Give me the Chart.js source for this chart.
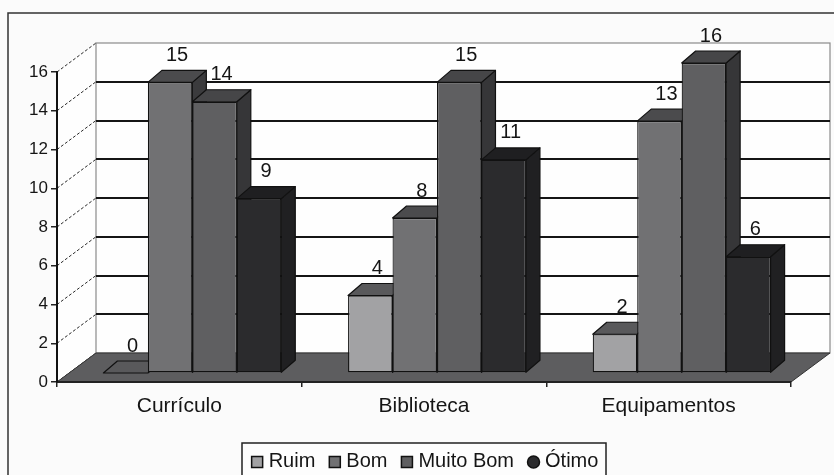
<!DOCTYPE html>
<html>
<head>
<meta charset="utf-8">
<script src="https://cdn.jsdelivr.net/npm/chart.js@4/dist/chart.umd.min.js"></script>
<style>
  html, body { margin: 0; padding: 0; background: #fbfbfb; }
  canvas { display: block; }
</style>
</head>
<body>
<canvas id="c" width="834" height="475"></canvas>
<script>
// ---- data ----
const categories = ['Currículo', 'Biblioteca', 'Equipamentos'];
const seriesNames = ['Ruim', 'Bom', 'Muito Bom', 'Ótimo'];
const ruim = [0, 4, 2];
const bom = [15, 8, 13];
const muitoBom = [14, 15, 16];
const otimo = [9, 11, 6];
const yMin = 0, yMax = 16, yStep = 2;

// ---- styles ----
const FONT = '"Liberation Sans", Arial, sans-serif';
const TEXT = '#151515';
const frontColors = ['#a2a2a4', '#717173', '#5f5f61', '#2b2b2d'];
const topColors = ['#59595b', '#4b4b4d', '#464648', '#1f1f21'];
const sideColors = ['#4a4a4c', '#3b3b3d', '#363638', '#202022'];
const G = { wallDx: 39, wallDy: -29, barDx: 13, barDy: -9, depthDx: 14, depthDy: -12 };

const seriesValues = [ruim, bom, muitoBom, otimo];

const threeD = {
  id: 'threeD',
  beforeDraw(chart) {
    const ctx = chart.ctx;
    const ys = chart.scales.y;
    const L = chart.chartArea.left, R = chart.chartArea.right;
    const B = ys.getPixelForValue(yMin), T = ys.getPixelForValue(yMax);
    ctx.save();
    ctx.fillStyle = '#fbfbfb';
    ctx.fillRect(0, 0, chart.width, chart.height);
    // outer border
    ctx.strokeStyle = '#333';
    ctx.lineWidth = 1.5;
    ctx.strokeRect(8, 13, chart.width + 10, chart.height + 10);
    // left wall
    ctx.fillStyle = '#fefefe';
    ctx.beginPath();
    ctx.moveTo(L, T); ctx.lineTo(L + G.wallDx, T + G.wallDy);
    ctx.lineTo(L + G.wallDx, B + G.wallDy); ctx.lineTo(L, B); ctx.closePath();
    ctx.fill();
    // back wall
    ctx.fillStyle = '#fefefe';
    ctx.fillRect(L + G.wallDx, T + G.wallDy, R - L, B - T);
    ctx.strokeStyle = '#8a8a8a';
    ctx.lineWidth = 1.2;
    ctx.strokeRect(L + G.wallDx, T + G.wallDy, R - L, B - T);
    // back gridlines
    ctx.strokeStyle = '#151515';
    ctx.lineWidth = 2;
    for (let v = yMin + yStep; v < yMax; v += yStep) {
      const y = Math.round(ys.getPixelForValue(v) + G.wallDy);
      ctx.beginPath();
      ctx.moveTo(L + G.wallDx, y); ctx.lineTo(R + G.wallDx, y);
      ctx.stroke();
    }
    // side diagonals
    ctx.strokeStyle = '#2a2a2a';
    ctx.lineWidth = 1;
    ctx.setLineDash([3, 2]);
    for (let v = yMin; v <= yMax; v += yStep) {
      const y = ys.getPixelForValue(v);
      ctx.beginPath();
      ctx.moveTo(L, y); ctx.lineTo(L + G.wallDx, y + G.wallDy);
      ctx.stroke();
    }
    ctx.setLineDash([]);
    // floor
    ctx.fillStyle = '#5d5d5f';
    ctx.beginPath();
    ctx.moveTo(L, B); ctx.lineTo(R, B);
    ctx.lineTo(R + G.wallDx, B + G.wallDy); ctx.lineTo(L + G.wallDx, B + G.wallDy);
    ctx.closePath();
    ctx.fill();
    ctx.strokeStyle = '#333';
    ctx.lineWidth = 1;
    ctx.stroke();
    ctx.restore();
  },
  beforeDatasetsDraw(chart) {
    // top and side faces, drawn left to right within each group, before the
    // library draws the front faces on top of them
    const ctx = chart.ctx;
    ctx.save();
    ctx.translate(G.barDx, G.barDy);
    ctx.lineWidth = 1.2;
    ctx.strokeStyle = '#111';
    ctx.lineJoin = 'round';
    for (let j = 0; j < categories.length; j++) {
      for (let i = 0; i < chart.data.datasets.length; i++) {
        const el = chart.getDatasetMeta(i).data[j];
        if (!el) continue;
        const p = el.getProps(['x', 'y', 'base', 'width'], true);
        const l = p.x - p.width / 2, r = p.x + p.width / 2;
        const t = p.y, b = p.base;
        if (b - t > 0.5) {
          ctx.fillStyle = sideColors[i];
          ctx.beginPath();
          ctx.moveTo(r, t); ctx.lineTo(r + G.depthDx, t + G.depthDy);
          ctx.lineTo(r + G.depthDx, b + G.depthDy); ctx.lineTo(r, b);
          ctx.closePath(); ctx.fill(); ctx.stroke();
        }
        ctx.fillStyle = topColors[i];
        ctx.beginPath();
        ctx.moveTo(l, t); ctx.lineTo(r, t);
        ctx.lineTo(r + G.depthDx, t + G.depthDy); ctx.lineTo(l + G.depthDx, t + G.depthDy);
        ctx.closePath(); ctx.fill(); ctx.stroke();
      }
    }
    ctx.restore();
  },
  beforeDatasetDraw(chart) {
    chart.ctx.save();
    chart.ctx.translate(G.barDx, G.barDy);
  },
  afterDatasetDraw(chart) {
    chart.ctx.restore();
  },
  afterDatasetsDraw(chart) {
    const ctx = chart.ctx;
    ctx.save();
    ctx.translate(G.barDx, G.barDy);
    ctx.font = '20px ' + FONT;
    ctx.fillStyle = TEXT;
    ctx.textAlign = 'center';
    ctx.textBaseline = 'middle';
    chart.data.datasets.forEach((ds, i) => {
      const meta = chart.getDatasetMeta(i);
      meta.data.forEach((el, j) => {
        const p = el.getProps(['x', 'y'], true);
        ctx.fillText(String(ds.data[j]), p.x + G.depthDx / 2, p.y + G.depthDy - 15);
      });
    });
    ctx.restore();
  },
  afterDraw(chart) {
    // legend
    const ctx = chart.ctx;
    ctx.save();
    ctx.font = '20px ' + FONT;
    const marker = 11, gapM = 6, gapI = 14;
    const widths = seriesNames.map((n) => ctx.measureText(n).width);
    let total = 0;
    widths.forEach((w, k) => { total += marker + gapM + w + (k < widths.length - 1 ? gapI : 0); });
    const cx = 425, cy = 461;
    let x = cx - total / 2;
    ctx.strokeStyle = '#222';
    ctx.lineWidth = 1.5;
    ctx.fillStyle = '#fdfdfd';
    ctx.fillRect(242, 443, 364, 40);
    ctx.strokeRect(242, 443, 364, 40);
    ctx.textBaseline = 'middle';
    ctx.textAlign = 'left';
    seriesNames.forEach((n, k) => {
      ctx.fillStyle = frontColors[k];
      ctx.strokeStyle = '#111';
      ctx.lineWidth = 1.5;
      if (k === 3) {
        ctx.beginPath();
        ctx.arc(x + marker / 2, cy + 1, marker / 2 + 0.5, 0, Math.PI * 2);
        ctx.fill(); ctx.stroke();
      } else {
        ctx.fillRect(x, cy - marker / 2 + 1, marker, marker);
        ctx.strokeRect(x, cy - marker / 2 + 1, marker, marker);
      }
      ctx.fillStyle = TEXT;
      ctx.fillText(n, x + marker + gapM, cy);
      x += marker + gapM + widths[k] + gapI;
    });
    ctx.restore();
  }
};

const datasets = seriesValues.map((vals, i) => ({
  label: seriesNames[i],
  data: vals,
  backgroundColor: frontColors[i],
  borderColor: '#111',
  borderWidth: 1.2,
  borderSkipped: false,
  categoryPercentage: 0.727,
  barPercentage: 1.0,
  clip: false
}));

new Chart(document.getElementById('c'), {
  type: 'bar',
  data: { labels: categories, datasets },
  options: {
    responsive: false,
    animation: false,
    devicePixelRatio: 1,
    layout: { padding: { left: 0, right: 43, top: 72, bottom: 53 } },
    plugins: { legend: { display: false }, tooltip: { enabled: false } },
    scales: {
      x: {
        grid: { drawOnChartArea: false, drawTicks: true, tickLength: 5, offset: true, color: '#222', lineWidth: 1.5 },
        border: { display: true, color: '#222', width: 2 },
        ticks: { font: { family: FONT, size: 21 }, color: TEXT, padding: 7 },
        afterFit(scale) { scale.height = 40; }
      },
      y: {
        min: yMin, max: yMax,
        grid: { drawOnChartArea: false, drawTicks: true, tickLength: 6, color: '#222', lineWidth: 1.5 },
        border: { display: true, color: '#111', width: 2 },
        ticks: { stepSize: yStep, font: { family: FONT, size: 17 }, color: TEXT, padding: 3 },
        afterFit(scale) { scale.width = 57; }
      }
    }
  },
  plugins: [threeD]
});
</script>
</body>
</html>
